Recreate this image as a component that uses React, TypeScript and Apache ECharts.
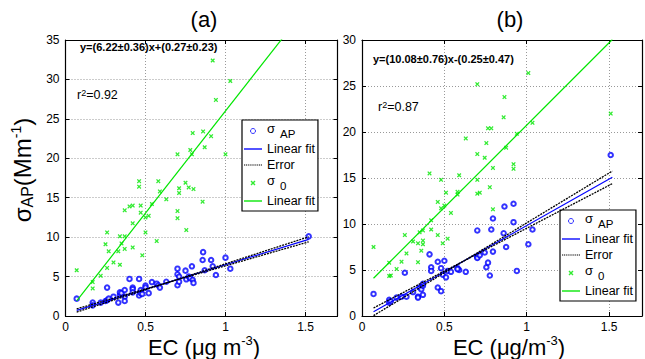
import React, { useEffect, useRef } from 'react';
import * as echarts from 'echarts';

const FONT = "'Liberation Sans', Arial, sans-serif";

// ---------- Panel (a) data ----------
const EC_A = [0.07, 0.17, 0.17, 0.22, 0.25, 0.26, 0.26, 0.27, 0.30, 0.33, 0.34, 0.34, 0.35, 0.37, 0.37, 0.37, 0.40, 0.42, 0.42, 0.42, 0.46, 0.46, 0.47, 0.47, 0.48, 0.50, 0.50, 0.52, 0.54, 0.57, 0.58, 0.59, 0.63, 0.70, 0.70, 0.70, 0.71, 0.71, 0.75, 0.755, 0.77, 0.78, 0.79, 0.795, 0.80, 0.857, 0.86, 0.87, 0.91, 0.92, 0.94, 1.00, 1.03, 1.52];
const SIGMA0_A = [5.8, 4.3, 3.5, 5.1, 9.1, 10.6, 6.1, 8.2, 6.8, 8.2, 10.1, 6.5, 9.2, 10.1, 13.4, 8.5, 13.9, 14.0, 11.75, 8.7, 17.1, 16.4, 13.1, 14.0, 7.7, 12.5, 10.6, 12.7, 14.2, 9.5, 17.1, 15.8, 14.8, 20.5, 13.3, 12.4, 16.2, 15.6, 16.9, 10.9, 16.3, 21.05, 20.5, 23.2, 16.1, 14.5, 23.4, 21.4, 22.8, 32.4, 27.4, 20.5, 29.8, null];
const SIGMAAP_A = [2.2, 1.7, 1.35, 1.7, 1.9, 3.6, 2.0, 2.2, 2.45, 1.7, 2.7, 3.0, 2.9, 2.45, 3.3, 1.9, 4.7, 3.6, 3.4, 3.0, 4.7, 2.6, 2.9, 3.3, 2.8, 3.85, 3.6, 2.9, 4.3, 4.1, 3.9, 3.6, 4.35, 6.0, 5.3, 3.9, 4.35, 5.0, 5.75, 4.65, 5.0, 4.8, 6.3, 4.6, 4.2, 7.1, 8.1, 5.8, 7.1, 6.3, 5.2, 7.4, 6.0, 10.1];

// ---------- Panel (b) data ----------
const EC_B = [0.07, 0.165, 0.165, 0.175, 0.21, 0.24, 0.26, 0.27, 0.31, 0.34, 0.34, 0.35, 0.36, 0.37, 0.37, 0.37, 0.41, 0.42, 0.42, 0.46, 0.46, 0.48, 0.48, 0.49, 0.51, 0.50, 0.52, 0.54, 0.59, 0.58, 0.58, 0.63, 0.70, 0.70, 0.70, 0.70, 0.715, 0.745, 0.755, 0.765, 0.785, 0.776, 0.795, 0.795, 0.86, 0.865, 0.875, 0.92, 0.92, 0.94, 1.01, 1.035, 1.51];
const SIGMA0_B = [7.5, 5.8, 4.35, 4.4, 5.1, 5.9, 8.8, 6.8, 8.1, 7.9, 5.85, 9.1, 7.1, 9.3, 8.2, 7.8, 15.5, 10.4, 9.4, 12.4, 8.8, 11.7, 14.8, 7.9, 13.4, 12.0, 8.4, 11.2, 15.3, 13.5, 13.2, 19.3, 25.2, 17.6, 14.8, 13.3, 13.4, 17.2, 18.8, 20.4, 20.4, 14.0, 16.1, 11.6, 21.6, 23.8, 18.3, 16.5, 16.0, 19.8, 26.4, 21.0, 22.0];
const SIGMAAP_B = [2.4, 1.75, 1.45, 1.6, 2.0, 2.1, 4.7, 2.1, 2.6, 2.1, 2.0, 3.1, 2.9, 3.3, 3.5, 2.3, 6.7, 5.3, 4.9, 5.9, 3.1, 5.2, 2.7, 4.5, 4.2, 6.0, 4.9, 4.8, 5.0, 5.2, 5.1, 4.8, 9.3, 6.4, 6.5, 6.3, 6.6, 6.9, 5.3, 5.8, 9.4, 4.4, 10.6, 7.0, 9.0, 11.9, 7.5, 10.2, 12.2, 4.9, 7.8, 9.4, 17.5];

// ---------- Fits (slope, slope error, intercept, intercept error) ----------
const FIT_AP_A = [6.22, 0.36, 0.27, 0.23];
const FIT_AP_B = [10.08, 0.76, -0.25, 0.47];
const FIT_0_A = [25.9, 0.1];
const FIT_0_B = [17.9, 2.85];
const FIT_RANGE = [0.07, 1.52];

const X_TICKS = [0, 0.5, 1, 1.5];
const X_MAX = 1.7;
const Y_MAX = [35, 30];
const Y_STEP = 5;

const TITLES = ['(a)', '(b)'];
const EQUATIONS = ['y=(6.22±0.36)x+(0.27±0.23)', 'y=(10.08±0.76)x-(0.25±0.47)'];
const R2 = ['0.92', '0.87'];
const X_NAMES = ['EC (μg m', 'EC (μg/m'];

// ---------- styling ----------
const BLUE = '#0000ff';
const GREEN = '#00e600';
const GRIDS = [
  { left: 65.5, top: 40, width: 272, height: 276 },
  { left: 362, top: 40, width: 282, height: 276 },
];

const X_MARK = 'path://M0,2L2,0L5,3L8,0L10,2L7,5L10,8L8,10L5,7L2,10L0,8L3,5Z';
const ICON_LINE = 'path://M0,0L20,0L20,1.5L0,1.5Z';
let dots = '';
for (let i = 0; i < 20; i += 2) dots += `M${i},0L${i + 1.2},0L${i + 1.2},1.3L${i},1.3Z`;
const ICON_DOT = 'path://' + dots;

function line(slope: number, icpt: number) {
  return FIT_RANGE.map((x) => [x, slope * x + icpt]);
}
function pts(xs: number[], ys: (number | null)[]) {
  const out: number[][] = [];
  xs.forEach((x, i) => {
    const y = ys[i];
    if (y !== null && y !== undefined) out.push([x, y]);
  });
  return out;
}

const LEGEND_TEXT: Record<string, string> = {
  ap: '{s|σ}{sub|AP}',
  fit: 'Linear fit',
  err: 'Error',
  s0: '{s|σ}{sub|0}',
  fit0: 'Linear fit',
};

function buildPanel(g: number, ec: number[], s0: (number | null)[], sap: number[], fitAp: number[], fit0: number[]) {
  const [s, se, b, be] = fitAp;
  const common = { xAxisIndex: g * 2, yAxisIndex: g * 2 };
  const sfx = g === 0 ? 'A' : 'B';
  return [
    { ...common, type: 'scatter', name: 'ap' + sfx, data: pts(ec, sap), symbol: 'emptyCircle', symbolSize: 4.5,
      itemStyle: { color: BLUE, borderColor: BLUE, borderWidth: 0.9 }, z: 3 },
    { ...common, type: 'line', name: 'fit' + sfx, data: line(s, b), symbol: 'none', showSymbol: false,
      lineStyle: { color: BLUE, width: 1.2 }, itemStyle: { color: BLUE }, z: 4 },
    { ...common, type: 'line', name: 'err' + sfx, data: line(s + se, b - be), symbol: 'none', showSymbol: false,
      lineStyle: { color: '#000', width: 1.3, type: [2, 1] }, itemStyle: { color: '#000' }, z: 5 },
    { ...common, type: 'line', name: 'err' + sfx, data: line(s - se, b + be), symbol: 'none', showSymbol: false,
      lineStyle: { color: '#000', width: 1.3, type: [2, 1] }, itemStyle: { color: '#000' }, z: 5 },
    { ...common, type: 'scatter', name: 's0' + sfx, data: pts(ec, s0), symbol: X_MARK, symbolSize: 4.5,
      itemStyle: { color: GREEN }, z: 3 },
    { ...common, type: 'line', name: 'fit0' + sfx, data: line(fit0[0], fit0[1]), symbol: 'none', showSymbol: false,
      lineStyle: { color: GREEN, width: 1.2 }, itemStyle: { color: GREEN }, z: 4 },
  ];
}

const axisLineStyle = { show: true, onZero: false, lineStyle: { color: '#000', width: 1.2 } };
const tickStyle = { show: true, inside: true, length: 4, lineStyle: { color: '#000' } };
const gridLineStyle = { show: true, lineStyle: { color: '#999', type: [1, 2], width: 1 } };
const labelStyle = { color: '#000', fontSize: 12, fontFamily: FONT };

function xAxes(g: number) {
  return [
    {
      type: 'value', gridIndex: g, position: 'bottom', min: 0, max: X_MAX, interval: 0.5,
      axisLine: axisLineStyle, axisTick: tickStyle, splitLine: gridLineStyle,
      axisLabel: { ...labelStyle, margin: 5, formatter: (v: number) => (X_TICKS.some((t) => Math.abs(t - v) < 1e-6) ? String(v) : '') },
    },
    {
      type: 'value', gridIndex: g, position: 'top', min: 0, max: X_MAX, interval: 0.5,
      axisLine: axisLineStyle, axisTick: tickStyle, splitLine: { show: false }, axisLabel: { show: false },
    },
  ];
}

function yAxes(g: number) {
  return [
    {
      type: 'value', gridIndex: g, position: 'left', min: 0, max: Y_MAX[g], interval: Y_STEP,
      axisLine: axisLineStyle, axisTick: tickStyle, splitLine: gridLineStyle,
      axisLabel: { ...labelStyle, margin: 6 },
    },
    {
      type: 'value', gridIndex: g, position: 'right', min: 0, max: Y_MAX[g], interval: Y_STEP,
      axisLine: axisLineStyle, axisTick: tickStyle, splitLine: { show: false }, axisLabel: { show: false },
    },
  ];
}

function legend(g: number, left: number, top: number) {
  const sfx = g === 0 ? 'A' : 'B';
  return {
    orient: 'vertical', left, top, selectedMode: false,
    backgroundColor: '#fff', borderColor: '#000', borderWidth: 1.2,
    padding: [2, 3, 3, 2], itemGap: 2, itemWidth: 18, itemHeight: 5,
    data: [
      { name: 'ap' + sfx, icon: 'circle', itemStyle: { color: '#fff', borderColor: BLUE, borderWidth: 1 } },
      { name: 'fit' + sfx, icon: ICON_LINE },
      { name: 'err' + sfx, icon: ICON_DOT },
      { name: 's0' + sfx, icon: X_MARK },
      { name: 'fit0' + sfx, icon: ICON_LINE },
    ],
    formatter: (name: string) => LEGEND_TEXT[name.slice(0, -1)],
    textStyle: {
      fontSize: 12.5, fontFamily: FONT, color: '#000', lineHeight: 14,
      rich: {
        s: { fontSize: 13, fontFamily: FONT, color: '#000', lineHeight: 13, padding: [0, 5, 5, 0] },
        sub: { fontSize: 11.5, fontFamily: FONT, color: '#000', lineHeight: 12, padding: [6, 0, 0, 0] },
      },
    },
  };
}

function textEl(x: number, y: number, text: string, size: number, weight: string, rich?: any) {
  return {
    type: 'text', x, y, z: 10,
    style: { text, fontSize: size, fontFamily: FONT, fontWeight: weight, fill: '#000', align: 'left', verticalAlign: 'middle', rich },
  };
}

const titleRich = {
  m: { fontSize: 22, fontFamily: FONT, fill: '#000', lineHeight: 24, verticalAlign: 'bottom' },
  sup: { fontSize: 13, fontFamily: FONT, fill: '#000', lineHeight: 13, verticalAlign: 'top' },
};
const yTitleRich = {
  m: { fontSize: 24, fontFamily: FONT, fill: '#000', lineHeight: 26, verticalAlign: 'middle' },
  sub: { fontSize: 16, fontFamily: FONT, fill: '#000', lineHeight: 16, padding: [11, 0, 0, 0], verticalAlign: 'bottom' },
  sup: { fontSize: 14, fontFamily: FONT, fill: '#000', lineHeight: 14, verticalAlign: 'top' },
};

export default function App() {
  const ref = useRef<HTMLDivElement>(null);
  useEffect(() => {
    if (!ref.current) return;
    const chart = echarts.init(ref.current, undefined, { renderer: 'svg' });
    const supRich = { sup: { fontSize: 9, fontFamily: FONT, lineHeight: 9, verticalAlign: 'top', fill: '#000' } };
    chart.setOption({
      animation: false,
      backgroundColor: '#fff',
      grid: GRIDS.map((g) => ({ ...g, containLabel: false })),
      xAxis: [...xAxes(0), ...xAxes(1)],
      yAxis: [...yAxes(0), ...yAxes(1)],
      legend: [legend(0, 242, 120), legend(1, 560, 210)],
      series: [
        ...buildPanel(0, EC_A, SIGMA0_A, SIGMAAP_A, FIT_AP_A, FIT_0_A),
        ...buildPanel(1, EC_B, SIGMA0_B, SIGMAAP_B, FIT_AP_B, FIT_0_B),
      ],
      graphic: [
        { type: 'text', x: 204, y: 19, style: { text: TITLES[0], fontSize: 22, fontFamily: FONT, fill: '#000', align: 'center', verticalAlign: 'middle' } },
        { type: 'text', x: 510, y: 19, style: { text: TITLES[1], fontSize: 22, fontFamily: FONT, fill: '#000', align: 'center', verticalAlign: 'middle' } },
        { type: 'text', x: 204, y: 346, style: { text: '{m|' + X_NAMES[0] + '}{sup|-3}{m|)}', rich: titleRich, align: 'center', verticalAlign: 'middle' } },
        { type: 'text', x: 509, y: 346, style: { text: '{m|' + X_NAMES[1] + '}{sup|-3}{m|)}', rich: titleRich, align: 'center', verticalAlign: 'middle' } },
        { type: 'text', x: 22, y: 170, rotation: Math.PI / 2, style: { text: '{m|σ}{sub|AP}{m|(Mm}{sup|-1}{m|)}', rich: yTitleRich, align: 'center', verticalAlign: 'middle' } },
        textEl(80, 47, EQUATIONS[0], 11, 'bold'),
        textEl(373, 59, EQUATIONS[1], 11, 'bold'),
        textEl(77, 95, 'r{sup|2}=' + R2[0], 12.5, 'normal', supRich),
        textEl(378, 107, 'r{sup|2}=' + R2[1], 12.5, 'normal', supRich),
      ],
    });
    return () => chart.dispose();
  }, []);
  return <div ref={ref} style={{ position: 'fixed', left: 0, top: 0, width: 645, height: 359 }} />;
}
